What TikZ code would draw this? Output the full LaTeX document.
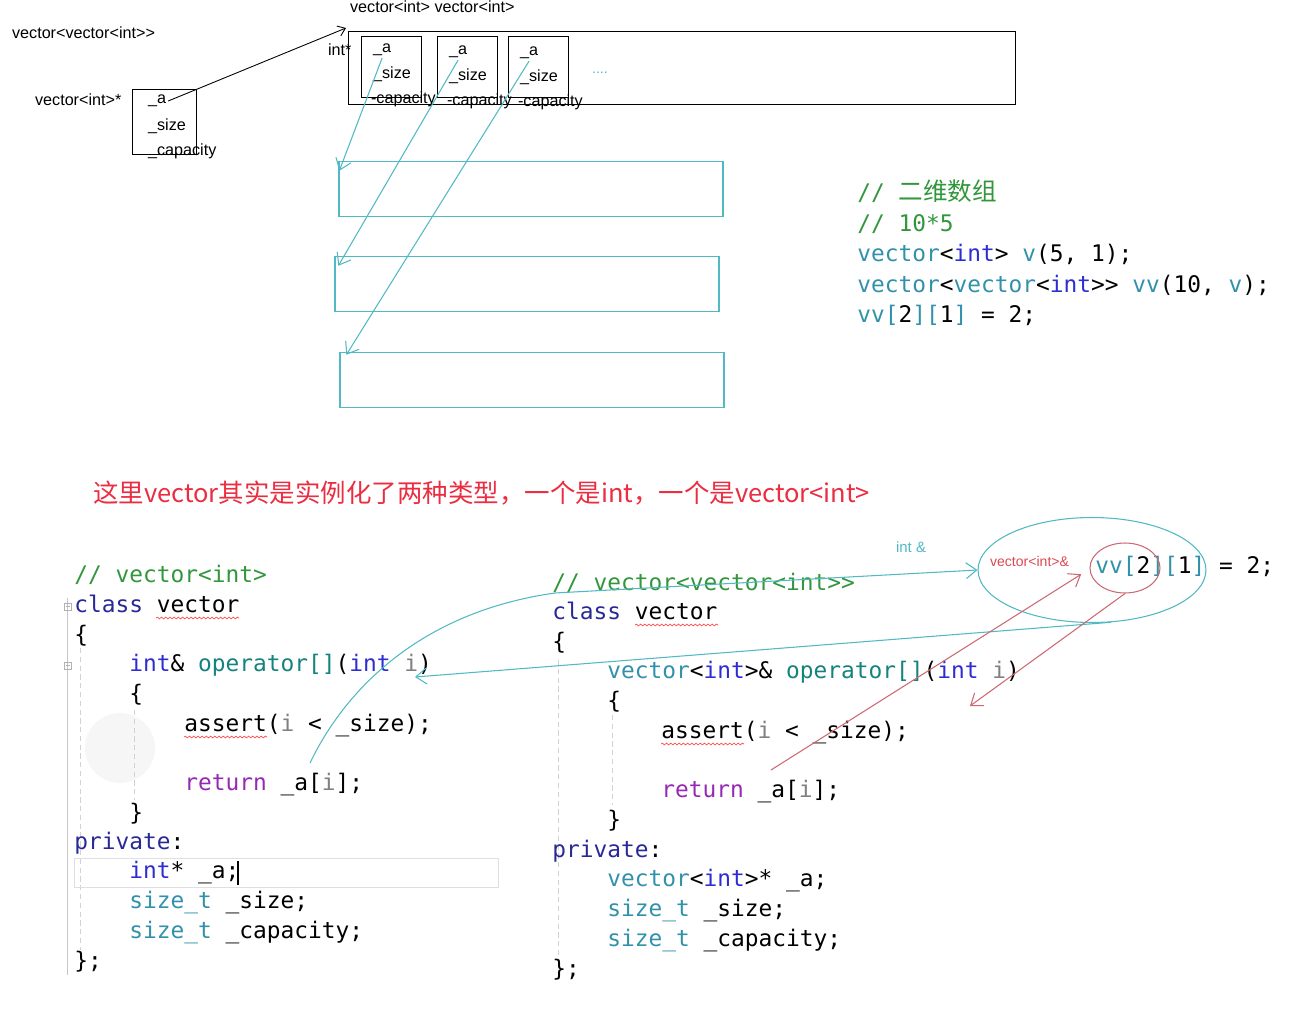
\documentclass[tikz,border=0pt]{standalone}
\usepackage{fontspec}
\setmainfont{Liberation Sans}
\setmonofont{DejaVu Sans Mono}
\newfontfamily\cjk{Noto Sans CJK SC}
\usepackage{xcolor}
\usetikzlibrary{arrows.meta}
\usetikzlibrary{shapes.geometric}
\usetikzlibrary{decorations.pathmorphing}
\definecolor{cmtgreen}{RGB}{50,150,60}
\definecolor{kwblue}{RGB}{45,45,210}
\definecolor{kwdark}{RGB}{40,40,150}
\definecolor{typeteal}{RGB}{50,145,170}
\definecolor{fnteal}{RGB}{20,130,125}
\definecolor{retpurple}{RGB}{150,40,180}
\definecolor{prmgray}{RGB}{128,128,128}
\definecolor{cyanpen}{RGB}{80,185,195}
\definecolor{redpen}{RGB}{205,105,115}
\definecolor{notered}{RGB}{235,45,65}
\newcommand{\codefont}{\ttfamily\fontsize{13}{15}\selectfont}
\newcommand{\labfont}{\fontsize{9.2}{11}\selectfont}
\newcommand{\cKw}[1]{\textcolor{kwblue}{#1}}
\newcommand{\cKd}[1]{\textcolor{kwdark}{#1}}
\newcommand{\cTy}[1]{\textcolor{typeteal}{#1}}
\newcommand{\cFn}[1]{\textcolor{fnteal}{#1}}
\newcommand{\cCm}[1]{\textcolor{cmtgreen}{#1}}
\newcommand{\cRt}[1]{\textcolor{retpurple}{#1}}
\newcommand{\cPr}[1]{\textcolor{prmgray}{#1}}

\begin{document}
\begin{tikzpicture}[x=0.02cm,y=-0.02cm]
\tikzstyle{lbl}=[font=\labfont, inner sep=1pt, anchor=west]
\tikzstyle{code}=[font=\codefont, inner sep=0pt, anchor=base west]
\tikzstyle{box}=[draw, line width=0.5pt, inner sep=0pt]
\tikzstyle{row}=[draw=cyanpen, line width=0.8pt, minimum width=7.68cm, minimum height=1.1cm]
\tikzstyle{cyanline}=[draw=cyanpen, line width=0.6pt]
\tikzstyle{redline}=[draw=redpen, line width=0.6pt]
\tikzstyle{barb}=[-{Straight Barb[length=6pt,width=9pt]}]
\tikzstyle{wavy}=[draw=red!70, line width=0.4pt, decorate, decoration={snake, amplitude=0.5pt, segment length=2.4pt}]
\useasboundingbox (0,0) rectangle (1296,1011);

\fill[gray!7] (120,748) circle[radius=0.7cm];
\draw[gray!45, line width=0.4pt] (67,598) -- (67,975);
\draw[gray!60, line width=0.3pt] (64,603) rectangle (71,610) (65.5,606.5) -- (69.5,606.5)
  (64,662) rectangle (71,669) (65.5,665.5) -- (69.5,665.5);
\draw[gray!35, densely dashed, line width=0.3pt] (80,648) -- (80,950) (134,710) -- (134,800)
  (558,660) -- (558,955) (612,715) -- (612,805);
\draw[gray!25, line width=0.5pt] (74,858) rectangle (498,887);
\draw[line width=0.6pt] (238,861) -- (238,885);

\node[lbl] (lvv) at (10,33) {vector<vector<int>{}>};
\node[lbl] (lvp) at (33,100) {vector<int>*};
\node[box, minimum width=1.28cm, minimum height=1.3cm] (sb) at (164,122) {};
\node[lbl] (sa) at (146,101) {\_a};
\node[lbl] (ss) at (146,126) {\_size};
\node[lbl] (sc) at (146,151) {\_capacity};

\node[lbl] (lvi) at (348,7) {vector<int> vector<int>};
\node[lbl] (ip) at (326,50) {int*};
\node[box, minimum width=13.34cm, minimum height=1.46cm] (bb) at (682,68) {};
\foreach \n/\x/\d in {1/391/0, 2/467/2, 3/538/3} {
  \node[box, minimum width=1.2cm, minimum height=1.22cm] (b\n) at (\x,67) {};
  \node[lbl] (a\n) at (\x-20,50+\d) {\_a};
  \node[lbl] (s\n) at (\x-20,74+\d) {\_size};
  \node[lbl] (c\n) at (\x-22,99+\d) {-capacity};
}
\node[lbl, text=cyanpen, font=\footnotesize] (dots) at (590,73) {....};
\coordinate (ptr) at (346,28);
\draw[line width=0.5pt, -{Straight Barb[length=4pt,width=6pt]}] (sa.east) -- (ptr);

\node[row] (r1) at (531,189) {};
\node[row] (r2) at (527,284) {};
\node[row] (r3) at (532,380) {};
\draw[cyanline, barb] (a1.south) -- ([shift={(1,10)}]r1.north west);
\draw[cyanline, barb] (a2.south) -- ([shift={(4,10)}]r2.north west);
\draw[cyanline, barb] (a3.south) -- ([shift={(7,3)}]r3.north west);

\node[code] (t0) at (857,200) {\cCm{// {\cjk\fontsize{14}{15}\selectfont 二维数组}}};
\node[code] (t1) at (857,231) {\cCm{// 10*5}};
\node[code] (t2) at (857,261) {\cTy{vector}<\cKw{int}> \cTy{v}(5, 1);};
\node[code] (t3) at (857,292) {\cTy{vector}<\cTy{vector}<\cKw{int}>{}> \cTy{vv}(10, \cTy{v});};
\node[code] (t4) at (857,322) {\cTy{vv}\cTy{[}2\cTy{][}1\cTy{]} = 2;};

\node[anchor=west, inner sep=0pt, text=notered, font=\cjk\fontsize{14.5}{17}\selectfont] (note) at (93,493) {这里vector其实是实例化了两种类型，一个是int，一个是vector<int>};

\node[code] (l0) at (74,582) {\cCm{// vector<int>}};
\node[code] (l1) at (74,612) {\cKd{class} vector};
\node[code] (l2) at (74,642) {\{};
\node[code] (l3) at (129,671) {\cKw{int}\& \cFn{operator[]}(\cKw{int} \cPr{i})};
\node[code] (l4) at (129,701) {\{};
\node[code] (l5) at (184,731) {assert(\cPr{i} < \_size);};
\node[code] (l6) at (184,790) {\cRt{return} \_a[\cPr{i}];};
\node[code] (l7) at (129,820) {\}};
\node[code] (l8) at (74,849) {\cKd{private}:};
\node[code] (l9) at (129,878) {\cKw{int}* \_a;};
\node[code] (l10) at (129,908) {\cTy{size\_t} \_size;};
\node[code] (l11) at (129,938) {\cTy{size\_t} \_capacity;};
\node[code] (l12) at (74,968) {\};};

\node[code] (m0) at (552,590) {\cCm{// vector<vector<int>{}>}};
\node[code] (m1) at (552,619) {\cKd{class} vector};
\node[code] (m2) at (552,649) {\{};
\node[code] (m3) at (607,678) {\cTy{vector}<\cKw{int}>\& \cFn{operator[]}(\cKw{int} \cPr{i})};
\node[code] (m4) at (607,708) {\{};
\node[code] (m5) at (661,738) {assert(\cPr{i} < \_size);};
\node[code] (m6) at (661,797) {\cRt{return} \_a[\cPr{i}];};
\node[code] (m7) at (607,827) {\}};
\node[code] (m8) at (552,857) {\cKd{private}:};
\node[code] (m9) at (607,886) {\cTy{vector}<\cKw{int}>* \_a;};
\node[code] (m10) at (607,916) {\cTy{size\_t} \_size;};
\node[code] (m11) at (607,946) {\cTy{size\_t} \_capacity;};
\node[code] (m12) at (552,976) {\};};

\draw[wavy] (156,618) -- (239,618);
\draw[wavy] (184,737) -- (267,737);
\draw[wavy] (635,625) -- (718,625);
\draw[wavy] (661,744) -- (744,744);

\node[code] (vv) at (1095,573) {\cTy{vv}\cTy{[}2\cTy{][}1\cTy{]} = 2;};
\node[lbl, text=cyanpen, font=\fontsize{8.5}{10}\selectfont] (li) at (894,547) {int \&};
\node[lbl, text=redpen!70!red, font=\fontsize{8}{10}\selectfont] (lr) at (988,561) {vector<int>\&};
\node[ellipse, draw=cyanpen, line width=0.6pt, minimum width=4.56cm, minimum height=2.1cm] (ce) at (1092,570) {};
\node[ellipse, draw=redpen, line width=0.6pt, minimum width=1.4cm, minimum height=1.0cm] (re) at (1125,568) {};

\coordinate (c0) at (310,763);
\draw[cyanline, barb] (c0) .. controls (345,690) and (420,612) .. (555,593) -- (ce.west);
\draw[cyanline, barb] (ce.-70) -- ([shift={(286,6)}]l3.base west);
\draw[redline, barb] ([shift={(110,-27)}]m6.base west) -- ([shift={(10,6)}]lr.south east);
\coordinate (rt) at (970,706);
\draw[redline, barb] (re.south) -- (rt);
\end{tikzpicture}
\end{document}
